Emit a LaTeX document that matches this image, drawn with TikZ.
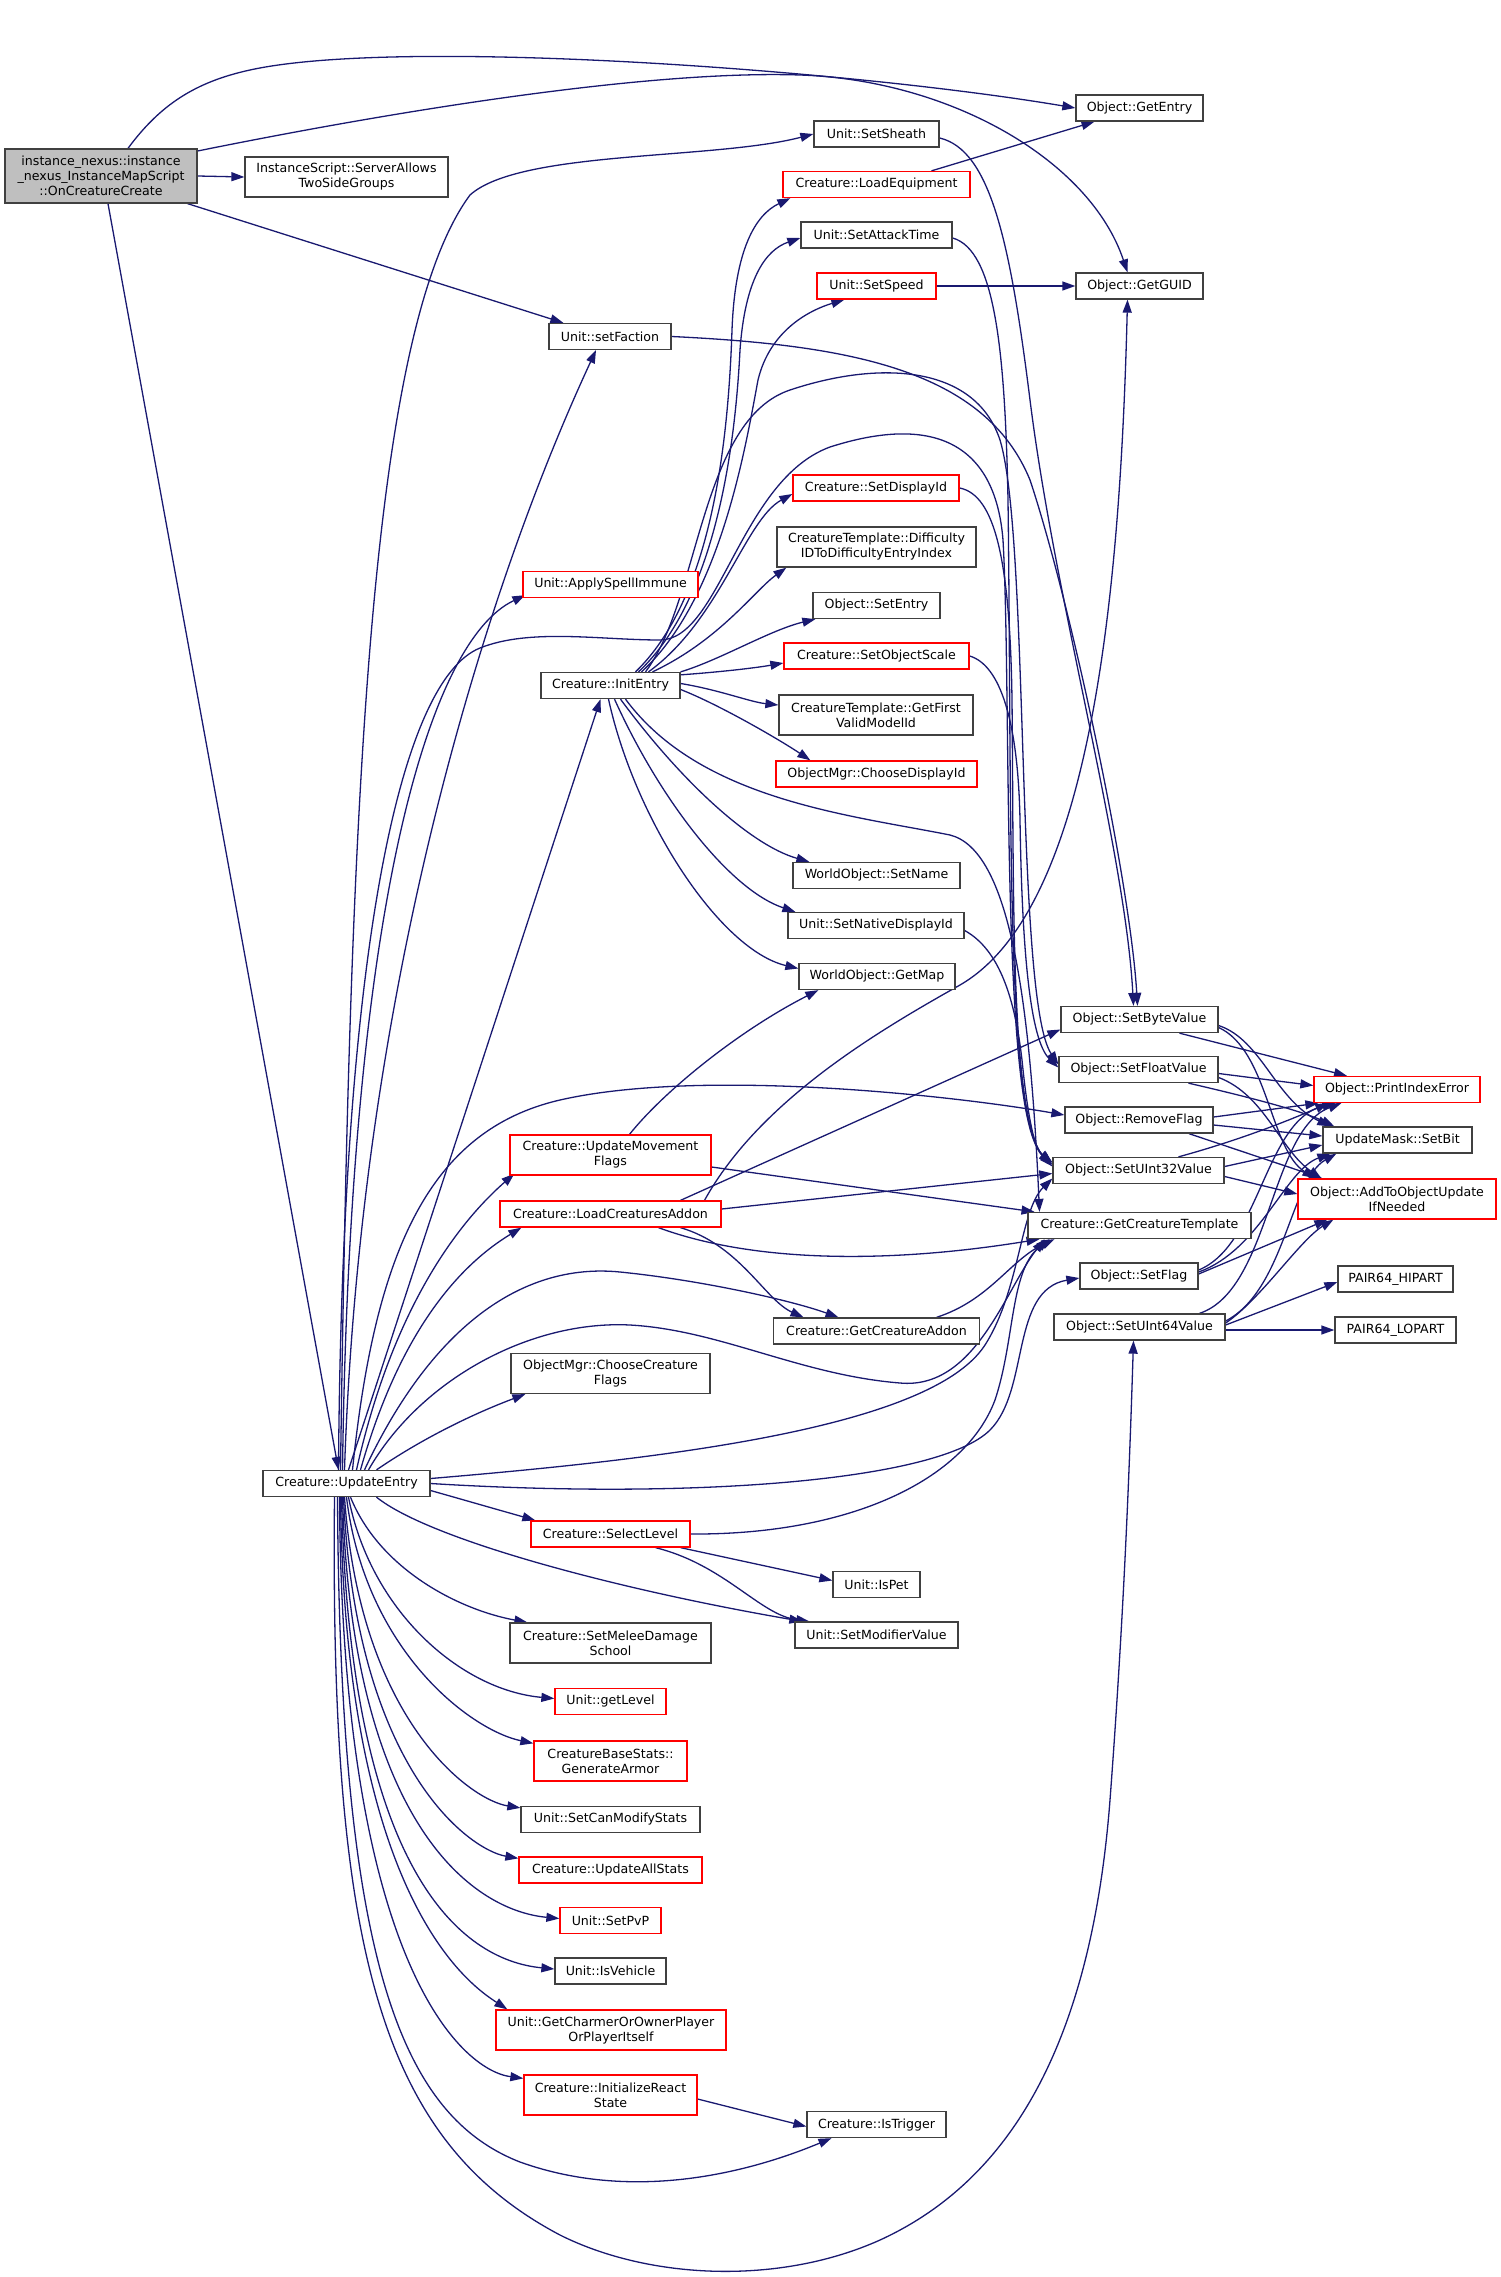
\documentclass[tikz,border=0pt]{standalone}
\usepackage{fontspec}
\setmainfont{DejaVu Sans}
\usetikzlibrary{arrows.meta,backgrounds}
\definecolor{edgecol}{HTML}{191970}
\definecolor{boxcol}{HTML}{404040}
\definecolor{redcol}{HTML}{FF0000}
\definecolor{maingray}{HTML}{BFBFBF}
\begin{document}
\begin{tikzpicture}[x=1pt,y=-1pt,
 box/.style={draw=boxcol,line width=1.3pt,fill=white,inner sep=0pt,minimum height=26pt,align=center,font=\fontsize{12.6pt}{15pt}\selectfont},
 rbox/.style={box,draw=redcol},
 tall/.style={minimum height=40pt},
 cedge/.style={draw=edgecol,line width=1.3pt,-{Triangle[length=13pt,width=9pt]}}]
\useasboundingbox (0,0) rectangle (1501,2277);
% nodes
\node[box,fill=maingray,minimum width=192pt,minimum height=54pt] (main) at (101,176) {instance\_nexus::instance\\\_nexus\_InstanceMapScript\\::OnCreatureCreate};
\node[box,tall,minimum width=203pt] (sats) at (346.5,177) {InstanceScript::ServerAllows\\TwoSideGroups};
\node[box,minimum width=127pt] (gentry) at (1139.5,108) {Object::GetEntry};
\node[box,minimum width=125pt] (sheath) at (876.5,134) {Unit::SetSheath};
\node[rbox,minimum width=187pt] (loadeq) at (876.5,184.5) {Creature::LoadEquipment};
\node[box,minimum width=151pt] (atk) at (876.5,235) {Unit::SetAttackTime};
\node[rbox,minimum width=119pt] (speed) at (876.5,286) {Unit::SetSpeed};
\node[box,minimum width=127pt] (guid) at (1139.5,286) {Object::GetGUID};
\node[box,minimum width=122pt] (faction) at (610,336.5) {Unit::setFaction};
\node[rbox,minimum width=166pt] (sdisp) at (876,488) {Creature::SetDisplayId};
\node[box,tall,minimum width=199pt] (diff) at (876.5,547) {CreatureTemplate::Difficulty\\IDToDifficultyEntryIndex};
\node[box,minimum width=127pt] (sentry) at (876.5,605.5) {Object::SetEntry};
\node[rbox,minimum width=185pt] (scale) at (876.5,656) {Creature::SetObjectScale};
\node[box,tall,minimum width=194pt] (gfv) at (876,715) {CreatureTemplate::GetFirst\\ValidModelId};
\node[rbox,minimum width=201pt] (cdisp) at (876.5,774) {ObjectMgr::ChooseDisplayId};
\node[rbox,minimum width=175pt] (asi) at (610.5,584.5) {Unit::ApplySpellImmune};
\node[box,minimum width=139pt] (init) at (610.5,685.5) {Creature::InitEntry};
\node[box,minimum width=167pt] (sname) at (876.5,875.5) {WorldObject::SetName};
\node[box,minimum width=176pt] (snat) at (876,925.5) {Unit::SetNativeDisplayId};
\node[box,minimum width=156pt] (gmap) at (877,976.5) {WorldObject::GetMap};
\node[box,minimum width=157pt] (sbyte) at (1139.5,1019.5) {Object::SetByteValue};
\node[box,minimum width=159pt] (sfloat) at (1138.5,1069.5) {Object::SetFloatValue};
\node[rbox,minimum width=166pt] (pie) at (1397,1089.5) {Object::PrintIndexError};
\node[box,minimum width=148pt] (rflag) at (1139,1120) {Object::RemoveFlag};
\node[box,minimum width=149pt] (sbit) at (1397.5,1140) {UpdateMask::SetBit};
\node[box,minimum width=171pt] (s32) at (1138.5,1170.5) {Object::SetUInt32Value};
\node[rbox,tall,minimum width=198pt] (ato) at (1397,1199) {Object::AddToObjectUpdate\\IfNeeded};
\node[box,minimum width=223pt] (gct) at (1139.5,1225.5) {Creature::GetCreatureTemplate};
\node[rbox,tall,minimum width=201pt] (umf) at (610.5,1155) {Creature::UpdateMovement\\Flags};
\node[rbox,minimum width=221pt] (lca) at (610.5,1214) {Creature::LoadCreaturesAddon};
\node[box,minimum width=118pt] (sflag) at (1139,1276) {Object::SetFlag};
\node[box,minimum width=206pt] (gca) at (876.5,1331) {Creature::GetCreatureAddon};
\node[box,minimum width=171pt] (s64) at (1139.5,1327) {Object::SetUInt64Value};
\node[box,minimum width=115pt] (hi) at (1395.5,1279) {PAIR64\_HIPART};
\node[box,minimum width=121pt] (lo) at (1395.5,1330) {PAIR64\_LOPART};
\node[box,tall,minimum width=199pt] (ccf) at (610.5,1373.5) {ObjectMgr::ChooseCreature\\Flags};
\node[box,minimum width=167pt] (ue) at (346.5,1483.5) {Creature::UpdateEntry};
\node[rbox,minimum width=159pt] (slev) at (610.5,1534) {Creature::SelectLevel};
\node[box,minimum width=87pt] (ispet) at (876.5,1584.5) {Unit::IsPet};
\node[box,minimum width=163pt] (smod) at (876.5,1635) {Unit::SetModifierValue};
\node[box,tall,minimum width=201pt] (smds) at (610.5,1643) {Creature::SetMeleeDamage\\School};
\node[rbox,minimum width=111pt] (glev) at (610.5,1701.5) {Unit::getLevel};
\node[rbox,tall,minimum width=153pt] (garm) at (610.5,1761) {CreatureBaseStats::\\GenerateArmor};
\node[box,minimum width=179pt] (scms) at (610.5,1819.5) {Unit::SetCanModifyStats};
\node[rbox,minimum width=183pt] (uas) at (610.5,1870) {Creature::UpdateAllStats};
\node[rbox,minimum width=101pt] (pvp) at (610.5,1920.5) {Unit::SetPvP};
\node[box,minimum width=111pt] (veh) at (610.5,1971) {Unit::IsVehicle};
\node[rbox,tall,minimum width=230pt] (charm) at (611,2030) {Unit::GetCharmerOrOwnerPlayer\\OrPlayerItself};
\node[rbox,tall,minimum width=173pt] (irs) at (610.5,2095) {Creature::InitializeReact\\State};
\node[box,minimum width=139pt] (trig) at (876.5,2124.5) {Creature::IsTrigger};
% edges
\begin{scope}[on background layer]
% from main
\draw[cedge] ([xshift=27pt]main.north) .. controls (160,105) and (195,82) .. (250,70) .. controls (400,37) and (850,70) .. (gentry.west);
\draw[cedge] ([yshift=25pt]main.east) .. controls (400,110) and (650,70) .. (800,75) .. controls (950,80) and (1090,160) .. ([xshift=-12pt]guid.north);
\draw[cedge] (main.east) -- (sats.west);
\draw[cedge] ([xshift=-10pt]main.south east) -- ([xshift=15pt]faction.north west);
\draw[cedge] ([xshift=7pt]main.south) -- ([xshift=-8pt]ue.north);
% top column
\draw[cedge] ([xshift=55pt]loadeq.north) -- ([xshift=-45pt]gentry.south);
\draw[cedge] (speed.east) -- (guid.west);
\draw[cedge] ([yshift=-4pt]sheath.east) .. controls (990,150) and (1010,240) .. (1030,400) .. controls (1055,600) and (1125,850) .. ([xshift=-6pt]sbyte.north);
\draw[cedge] (faction.east) .. controls (850,345) and (985,370) .. (1030,480) .. controls (1070,600) and (1130,880) .. ([xshift=-2pt]sbyte.north);
\draw[cedge] ([yshift=-3pt]atk.east) .. controls (995,250) and (1005,350) .. (1008,500) .. controls (1012,800) and (1005,1120) .. ([yshift=6pt]s32.west);
\draw[cedge] (sdisp.east) .. controls (995,495) and (1010,560) .. (1012,700) .. controls (1014,900) and (1010,1120) .. ([yshift=4pt]s32.west);
\draw[cedge] (scale.east) .. controls (1000,665) and (1018,720) .. (1020,820) .. controls (1022,950) and (1030,1040) .. ([yshift=2pt]sfloat.west);
\draw[cedge] ([yshift=-5pt]snat.east) .. controls (1000,950) and (1015,1000) .. (1022,1060) .. controls (1028,1120) and (1035,1150) .. ([yshift=8pt]s32.west);
% from InitEntry
\draw[cedge] ([xshift=25pt]init.north) .. controls (710,600) and (728,450) .. (732,330) .. controls (735,250) and (755,215) .. ([xshift=8pt]loadeq.south west);
\draw[cedge] ([xshift=28pt]init.north) .. controls (715,600) and (735,450) .. (740,350) .. controls (745,280) and (765,250) .. ([yshift=-3pt]atk.west);
\draw[cedge] ([xshift=31pt]init.north) .. controls (720,600) and (745,450) .. (758,380) .. controls (770,330) and (810,310) .. ([xshift=28pt]speed.south west);
\draw[cedge] ([xshift=35pt]init.north) .. controls (700,600) and (700,420) .. (790,390) .. controls (880,360) and (975,365) .. (1000,440) .. controls (1030,540) and (1015,1000) .. ([yshift=5pt]sfloat.west);
\draw[cedge] ([xshift=38pt]init.north) .. controls (720,620) and (745,520) .. ([yshift=-6pt]sdisp.west);
\draw[cedge] ([xshift=42pt]init.north) .. controls (720,640) and (755,590) .. ([xshift=10pt]diff.south west);
\draw[cedge] (init.north east) .. controls (720,660) and (770,630) .. ([xshift=3pt]sentry.south west);
\draw[cedge] ([yshift=-3pt]init.north east) .. controls (720,672) and (755,668) .. ([yshift=-7pt]scale.west);
\draw[cedge] ([yshift=2pt]init.east) .. controls (720,690) and (750,702) .. ([yshift=10pt]gfv.west);
\draw[cedge] ([yshift=-4pt]init.east) .. controls (720,705) and (780,740) .. ([xshift=35pt]cdisp.north west);
\draw[cedge] ([xshift=15pt]init.south) .. controls (700,800) and (850,815) .. (950,835) .. controls (1010,850) and (1030,1000) .. ([xshift=-100pt]gct.north);
\draw[cedge] ([xshift=10pt]init.south) .. controls (680,780) and (750,845) .. ([xshift=17pt]sname.north west);
\draw[cedge] ([xshift=4pt]init.south) .. controls (660,800) and (730,890) .. ([xshift=8pt]snat.north west);
\draw[cedge] ([xshift=-2pt]init.south) .. controls (635,820) and (720,950) .. ([yshift=8pt]gmap.west);
% from UpdateEntry upwards
\draw[cedge] ([xshift=-6pt]ue.north) .. controls (350,800) and (370,330) .. (470,195) .. controls (520,150) and (714,160) .. (sheath.west);
\draw[cedge] ([xshift=-2pt]ue.north) .. controls (360,1000) and (480,600) .. ([xshift=-14pt]faction.south);
\draw[cedge] ([xshift=-4pt]ue.north) .. controls (350,900) and (430,640) .. ([xshift=3pt,yshift=3pt]asi.south west);
\draw[cedge] ([xshift=2pt]ue.north) -- ([xshift=-10pt]init.south);
\draw[cedge] ([xshift=-8pt]ue.north) .. controls (342,950) and (400,680) .. (480,648) .. controls (530,628) and (600,640) .. (660,640) .. controls (720,640) and (740,480) .. (830,447) .. controls (930,415) and (995,440) .. (1003,540) .. controls (1012,700) and (1000,1120) .. ([yshift=8pt]s32.west);
\draw[cedge] ([xshift=6pt]ue.north) .. controls (375,1250) and (430,1130) .. (560,1100) .. controls (700,1068) and (950,1095) .. ([yshift=5pt]rflag.west);
\draw[cedge] ([xshift=10pt]ue.north) .. controls (390,1320) and (450,1230) .. ([xshift=5pt,yshift=2pt]umf.south west);
\draw[cedge] ([xshift=14pt]ue.north) .. controls (400,1330) and (460,1265) .. ([xshift=22pt]lca.south west);
\draw[cedge] ([xshift=18pt]ue.north) .. controls (430,1330) and (520,1262) .. (620,1272) .. controls (700,1280) and (790,1300) .. ([xshift=-38pt]gca.north);
\draw[cedge] ([xshift=22pt]ue.north) .. controls (420,1380) and (530,1320) .. (630,1325) .. controls (720,1330) and (800,1375) .. (900,1383) .. controls (975,1390) and (1005,1290) .. ([xshift=-95pt]gct.south);
\draw[cedge] ([xshift=30pt]ue.north) .. controls (420,1440) and (470,1415) .. ([xshift=15pt]ccf.south west);
\draw[cedge] ([yshift=5pt]ue.east) .. controls (650,1460) and (930,1430) .. (985,1345) .. controls (1020,1290) and (1020,1210) .. ([yshift=-8pt]s32.west);
\draw[cedge] (ue.east) .. controls (700,1500) and (940,1480) .. (990,1430) .. controls (1030,1390) and (1010,1290) .. ([yshift=-2pt]sflag.west);
\draw[cedge] ([yshift=-7pt]ue.east) -- ([xshift=5pt]slev.north west);
% LoadCreaturesAddon etc
\draw[cedge] ([xshift=70pt]lca.north) -- ([yshift=-10pt]sbyte.west);
\draw[cedge] ([xshift=94pt]lca.north) .. controls (760,1100) and (880,1030) .. (960,985) .. controls (1090,910) and (1120,600) .. ([xshift=-12pt]guid.south);
\draw[cedge] ([yshift=5pt]lca.east) -- ([yshift=-3pt]s32.west);
\draw[cedge] ([xshift=48pt]lca.south) .. controls (760,1265) and (900,1262) .. ([xshift=-100pt]gct.south);
\draw[cedge] ([xshift=70pt]lca.south) .. controls (740,1245) and (765,1300) .. ([xshift=-73pt]gca.north);
\draw[cedge] ([yshift=-12pt]umf.east) -- ([xshift=-105pt]gct.north);
\draw[cedge] ([xshift=19pt]umf.north) .. controls (665,1090) and (740,1030) .. ([xshift=20pt]gmap.south west);
\draw[cedge] ([xshift=60pt]gca.north) .. controls (990,1300) and (1010,1260) .. ([xshift=-85pt]gct.south);
\draw[cedge] (slev.east) .. controls (850,1535) and (965,1480) .. (995,1400) .. controls (1015,1340) and (1010,1270) .. ([xshift=-90pt]gct.south);
% right cluster
\draw[cedge] ([xshift=40pt]sbyte.south) -- ([xshift=-50pt]pie.north);
\draw[cedge] ([yshift=-6pt]sbyte.east) .. controls (1262,1040) and (1275,1100) .. ([xshift=8pt]sbit.north west);
\draw[cedge] ([yshift=-8pt]sbyte.east) .. controls (1268,1050) and (1270,1150) .. ([xshift=18pt]ato.north west);
\draw[cedge] ([yshift=-4pt]sfloat.east) -- ([yshift=4pt]pie.west);
\draw[cedge] ([xshift=50pt]sfloat.south) .. controls (1240,1095) and (1300,1110) .. ([xshift=12pt]sbit.north west);
\draw[cedge] ([yshift=-8pt]sfloat.east) .. controls (1265,1095) and (1280,1150) .. ([xshift=24pt]ato.north west);
\draw[cedge] ([yshift=3pt]rflag.east) -- ([xshift=5pt]pie.south west);
\draw[cedge] ([yshift=-5pt]rflag.east) -- ([yshift=4pt]sbit.west);
\draw[cedge] ([xshift=50pt]rflag.south) -- ([xshift=25pt]ato.north west);
\draw[cedge] ([xshift=40pt]s32.north) .. controls (1240,1140) and (1290,1120) .. ([xshift=15pt]pie.south west);
\draw[cedge] ([yshift=4pt]s32.east) -- ([yshift=-5pt]sbit.west);
\draw[cedge] ([yshift=-6pt]s32.east) -- ([yshift=5pt]ato.west);
\draw[cedge] ([yshift=6pt]sflag.east) .. controls (1260,1245) and (1265,1120) .. ([xshift=22pt]pie.south west);
\draw[cedge] ([yshift=4pt]sflag.east) .. controls (1260,1250) and (1285,1170) .. ([xshift=8pt]sbit.south west);
\draw[cedge] ([yshift=2pt]sflag.east) -- ([xshift=30pt]ato.south west);
\draw[cedge] ([xshift=60pt]s64.north) .. controls (1270,1290) and (1270,1130) .. ([xshift=28pt]pie.south west);
\draw[cedge] ([yshift=6pt]s64.east) .. controls (1285,1290) and (1290,1180) .. ([xshift=14pt]sbit.south west);
\draw[cedge] ([yshift=4pt]s64.east) .. controls (1260,1300) and (1300,1240) .. ([xshift=36pt]ato.south west);
\draw[cedge] ([yshift=2pt]s64.east) -- ([yshift=-3pt]hi.west);
\draw[cedge] ([yshift=-3pt]s64.east) -- (lo.west);
% lower
\draw[cedge] ([xshift=-10pt]slev.south east) -- ([yshift=4pt]ispet.west);
\draw[cedge] ([xshift=-35pt]slev.south east) .. controls (725,1565) and (760,1615) .. ([xshift=15pt]smod.north west);
\draw[cedge] ([xshift=30pt]ue.south) .. controls (430,1540) and (620,1590) .. ([xshift=8pt]smod.north west);
\draw[cedge] ([xshift=4pt]ue.south) .. controls (380,1570) and (460,1610) .. ([xshift=18pt]smds.north west);
\draw[cedge] ([xshift=2pt]ue.south) .. controls (370,1610) and (460,1690) .. ([yshift=3pt]glev.west);
\draw[cedge] (ue.south) .. controls (365,1650) and (470,1730) .. ([yshift=-3pt]garm.north west);
\draw[cedge] ([xshift=-2pt]ue.south) .. controls (360,1720) and (470,1800) .. ([yshift=-2pt]scms.north west);
\draw[cedge] ([xshift=-3pt]ue.south) .. controls (356,1770) and (470,1850) .. ([yshift=-2pt]uas.north west);
\draw[cedge] ([xshift=-4pt]ue.south) .. controls (352,1820) and (470,1910) .. ([yshift=2pt]pvp.west);
\draw[cedge] ([xshift=-5pt]ue.south) .. controls (350,1870) and (460,1960) .. ([yshift=2pt]veh.west);
\draw[cedge] ([xshift=-6pt]ue.south) .. controls (345,1900) and (470,1985) .. ([xshift=12pt]charm.north west);
\draw[cedge] ([xshift=-7pt]ue.south) .. controls (342,1960) and (460,2070) .. ([yshift=-4pt]irs.north west);
\draw[cedge] ([xshift=-9pt]ue.south) .. controls (340,1960) and (400,2115) .. (520,2162) .. controls (640,2205) and (760,2168) .. ([xshift=-45pt]trig.south);
\draw[cedge] ([xshift=-12pt]ue.south) .. controls (330,1950) and (380,2140) .. (560,2235) .. controls (650,2280) and (780,2285) .. (880,2240) .. controls (1000,2185) and (1090,2060) .. (1110,1800) .. controls (1125,1600) and (1130,1450) .. ([xshift=-6pt]s64.south);
\draw[cedge] ([yshift=-4pt]irs.east) -- ([yshift=-2pt]trig.west);
\end{scope}
\end{tikzpicture}
\end{document}
